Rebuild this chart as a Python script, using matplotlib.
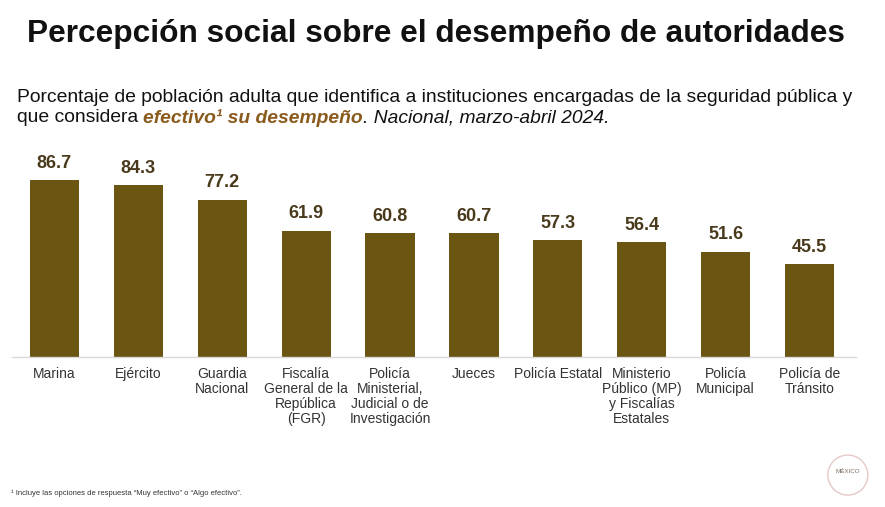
import matplotlib.pyplot as plt
from matplotlib.patches import Ellipse

plt.rcParams['font.family'] = ['Liberation Sans', 'DejaVu Sans']

# Datos
categorias = ["Marina", "Ejército", "Guardia\nNacional", "Fiscalía\nGeneral de la\nRepública\n(FGR)",
              "Policía\nMinisterial,\nJudicial o de\nInvestigación", "Jueces", "Policía Estatal",
              "Ministerio\nPúblico (MP)\ny Fiscalías\nEstatales", "Policía\nMunicipal", "Policía de\nTránsito"]
valores = [86.7, 84.3, 77.2, 61.9, 60.8, 60.7, 57.3, 56.4, 51.6, 45.5]

color_barra = '#6b5512'
color_valor = '#4a3a1c'

fig = plt.figure(figsize=(8.85, 5.07), dpi=100)
ax = fig.add_axes([0.014, 0.296, 0.953, 0.402])

x = range(len(valores))
bars = ax.bar(x, valores, width=0.585, color=color_barra)
for xi, v in zip(x, valores):
    ax.annotate(f"{v:.1f}", (xi, v), xytext=(0, 6), textcoords='offset points',
                ha='center', va='bottom', fontsize=13, fontweight='bold', color=color_valor)

ax.set_xlim(-0.5, 9.55)
ax.set_ylim(0, 100)
ax.set_xticks(list(x))
ax.set_xticklabels(categorias, fontsize=10, color='#333333', linespacing=1.1, va='top')
ax.tick_params(axis='x', length=0, pad=7)
ax.set_yticks([])
for s in ['top', 'right', 'left']:
    ax.spines[s].set_visible(False)
ax.spines['bottom'].set_color('#d9d9d9')
ax.spines['bottom'].set_linewidth(1)

# Titulo
fig.text(0.493, 0.933, "Percepción social sobre el desempeño de autoridades", ha='center', va='center',
         fontsize=22.8, fontweight='bold', color='#111111')

# Subtitulo
fig.text(0.019, 0.808, "Porcentaje de población adulta que identifica a instituciones encargadas de la seguridad pública y",
         ha='left', va='center', fontsize=13.9, color='#111111')

renderer = fig.canvas.get_renderer()
partes = [("que considera ", dict(color='#111111')),
          ("efectivo¹ su desempeño", dict(color='#8a5a1c', fontweight='bold', style='italic')),
          (". Nacional, marzo-abril 2024.", dict(color='#111111', style='italic'))]
xpos = 0.019
for txt, kw in partes:
    t = fig.text(xpos, 0.768, txt, ha='left', va='center', fontsize=13.9, **kw)
    bb = t.get_window_extent(renderer=renderer)
    xpos += bb.width / fig.bbox.width

# Nota
fig.text(0.012, 0.028, "¹ Incluye las opciones de respuesta \u201cMuy efectivo\u201d o \u201cAlgo efectivo\u201d.",
         ha='left', va='center', fontsize=5.5, color='#333333')

# Logo circular
logo = Ellipse((0.958, 0.063), 40 / 885, 40 / 507, transform=fig.transFigure, fill=False,
               edgecolor='#e6c8c8', lw=1)
fig.patches.append(logo)
fig.text(0.958, 0.07, "MÉXICO", ha='center', va='center', fontsize=4.5, color='#7a6a5a')

fig.savefig('out.png', dpi=100)
